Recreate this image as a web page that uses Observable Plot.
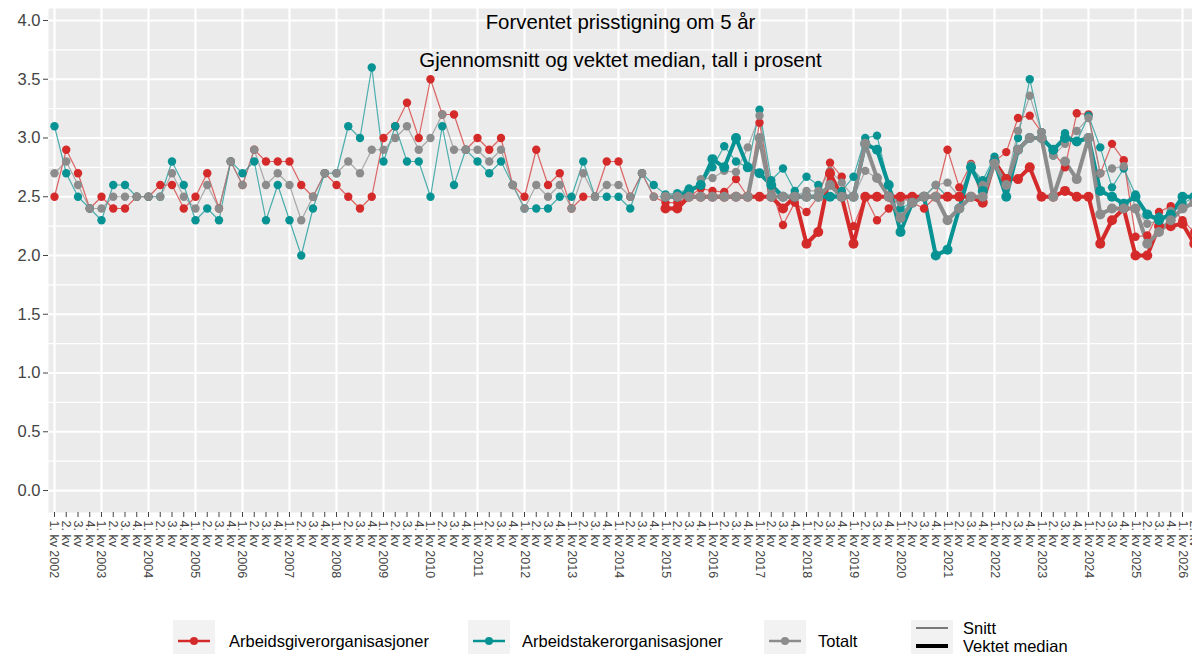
<!DOCTYPE html>
<html>
<head>
<meta charset="utf-8">
<script src="https://cdn.jsdelivr.net/npm/d3@7"></script>
<script src="https://cdn.jsdelivr.net/npm/@observablehq/plot@0.6"></script>
<style>
html, body { margin: 0; padding: 0; background: #fff; overflow: hidden; width: 1192px; height: 654px; }
#wrap { position: relative; width: 1192px; height: 654px; font-family: "Liberation Sans", Arial, sans-serif; }
#legend { position: absolute; left: 0; top: 0; width: 1192px; height: 654px; pointer-events: none; }
.key { position: absolute; top: 620px; width: 42px; height: 40px; background: #F2F2F2; }
.lab { position: absolute; font-size: 16.5px; line-height: 1; color: #000; white-space: nowrap; }
</style>
</head>
<body>
<div id="wrap"><div id="chart"></div><div id="legend"></div></div>
<script>
// ---- categories / tick labels ----
const yearLabels = ["2002","2003","2004","2005","2006","2007","2008","2009","2010","2011","2012","2013","2014",
  "2015","2016","2017","2018","2019","2020","2021","2022","2023","2024","2025","2026"];
const quarterLabels = ["1. kv", "2. kv", "3. kv", "4. kv"];
const categories = yearLabels.flatMap(y => quarterLabels.map((q, k) => k === 0 ? `${q} ${y}` : q)).slice(0, 98);
const yTicks = [0, 0.5, 1, 1.5, 2, 2.5, 3, 3.5, 4];
const yMinor = [0.25, 0.75, 1.25, 1.75, 2.25, 2.75, 3.25, 3.75];

const seriesNames = ["Arbeidsgiverorganisasjoner", "Arbeidstakerorganisasjoner", "Totalt"];
const seriesColors = ["#d52a2a", "#079393", "#8c8c8c"];

// ---- Snitt (average), 1. kv 2002 – 2. kv 2026 ----
const arbSnitt = [2.5,2.9,2.7,2.4,2.5,2.4,2.4,2.5,2.5,2.6, 2.6,2.4,2.5,2.7,2.4,2.8,2.6,2.9,2.8,2.8,
  2.8,2.6,2.5,2.7,2.6,2.5,2.4,2.5,3.0,3.1, 3.3,3.0,3.5,3.2,3.2,2.9,3.0,2.9,3.0,2.6,
  2.5,2.9,2.6,2.7,2.4,2.5,2.5,2.8,2.8,2.5, 2.7,2.5,
  2.45,2.45,2.5,2.57,2.55,2.54,2.65,2.5,3.13,2.57, 2.26,2.45,2.37,2.5,2.79,2.67,2.25,2.5,2.3,2.4,
  2.5,2.45,2.4,2.5,2.9,2.58,2.78,2.46,2.8,2.88, 3.17,3.19,3.05,2.88,2.75,3.21,3.2,2.7,2.95,2.81,
  2.16,2.17,2.37,2.42,2.3,2.2];
const takSnitt = [3.1,2.7,2.5,2.4,2.3,2.6,2.6,2.5,2.5,2.5, 2.8,2.6,2.3,2.4,2.3,2.8,2.7,2.8,2.3,2.6,
  2.3,2.0,2.4,2.7,2.7,3.1,3.0,3.6,2.8,3.1, 2.8,2.8,2.5,3.1,2.6,2.9,2.8,2.7,2.8,2.6,
  2.4,2.4,2.4,2.5,2.5,2.8,2.5,2.5,2.5,2.4, 2.7,2.6,
  2.52,2.53,2.57,2.6,2.75,2.93,2.8,2.75,3.24,2.64, 2.74,2.55,2.67,2.6,2.5,2.55,2.67,3.0,3.02,2.6,
  2.4,2.45,2.5,2.6,2.5,2.5,2.75,2.64,2.84,2.6, 3.0,3.5,3.05,2.85,3.04,2.97,3.19,2.92,2.58,2.74,
  2.52,2.35,2.33,2.35,2.44,2.5];
const totSnitt = [2.7,2.8,2.6,2.4,2.4,2.5,2.5,2.5,2.5,2.5, 2.7,2.5,2.4,2.6,2.4,2.8,2.6,2.9,2.6,2.7,
  2.6,2.3,2.5,2.7,2.7,2.8,2.7,2.9,2.9,3.0, 3.1,2.9,3.0,3.2,2.9,2.9,2.9,2.8,2.9,2.6,
  2.4,2.6,2.5,2.6,2.4,2.7,2.5,2.6,2.6,2.5, 2.7,2.5,
  2.5,2.5,2.5,2.65,2.66,2.72,2.71,2.92,3.19,2.55, 2.5,2.5,2.55,2.55,2.72,2.62,2.5,2.72,2.66,2.5,
  2.45,2.5,2.5,2.6,2.62,2.5,2.77,2.6,2.8,2.62, 3.06,3.36,3.05,2.85,2.95,3.06,3.17,2.7,2.74,2.76,
  2.4,2.27,2.3,2.38,2.5,2.5];

// ---- Vektet median, 1. kv 2015 – 2. kv 2026 ----
const medianStart = "1. kv 2015";
const arbMedian = [2.4,2.4,2.5,2.5,2.5,2.5,2.5,2.5,2.5,2.5, 2.4,2.5,2.1,2.2,2.7,2.5,2.1,2.5,2.5,2.5,
  2.5,2.5,2.5,2.5,2.5,2.5,2.5,2.45,2.8,2.65, 2.65,2.75,2.5,2.5,2.55,2.5,2.5,2.1,2.3,2.4,
  2.0,2.0,2.25,2.25,2.27,2.1];
const takMedian = [2.5,2.5,2.55,2.6,2.82,2.75,3.0,2.75,2.7,2.6, 2.5,2.5,2.5,2.5,2.5,2.5,2.5,2.95,2.9,2.6,
  2.2,2.45,2.5,2.0,2.05,2.4,2.75,2.55,2.8,2.5, 2.9,3.0,3.0,2.9,3.0,2.97,3.0,2.55,2.5,2.44,
  2.5,2.35,2.3,2.35,2.5,2.5];
const totMedian = [2.5,2.5,2.5,2.5,2.5,2.5,2.5,2.5,3.0,2.5, 2.5,2.5,2.5,2.5,2.6,2.5,2.5,2.95,2.66,2.5,
  2.32,2.45,2.5,2.5,2.3,2.4,2.5,2.5,2.78,2.6, 2.9,3.0,3.0,2.5,2.8,2.65,3.0,2.35,2.4,2.4,
  2.4,2.1,2.2,2.3,2.4,2.45];

// ---- build tidy rows ----
const rows = [];
function addSeries(series, kind, values, startIndex) {
  values.forEach((v, k) => rows.push({i: startIndex + k, v, series, kind}));
}
const m0 = categories.indexOf(medianStart);
addSeries(seriesNames[0], "snitt", arbSnitt, 0);
addSeries(seriesNames[1], "snitt", takSnitt, 0);
addSeries(seriesNames[2], "snitt", totSnitt, 0);
addSeries(seriesNames[0], "median", arbMedian, m0);
addSeries(seriesNames[1], "median", takMedian, m0);
addSeries(seriesNames[2], "median", totMedian, m0);
const snitt = rows.filter(d => d.kind === "snitt");
const median = rows.filter(d => d.kind === "median");
const yearStarts = categories.map((c, i) => i).filter(i => i % 4 === 0);

const chart = Plot.plot({
  width: 1192,
  height: 612,
  marginLeft: 48,
  marginRight: 0,
  marginTop: 8,
  marginBottom: 100,
  style: {fontFamily: '"Liberation Sans", Arial, sans-serif', background: "#fff", overflow: "hidden"},
  x: {domain: [-0.51, 96.85], axis: null},
  y: {domain: [-0.187, 4.102], axis: null},
  color: {domain: seriesNames, range: seriesColors},
  marks: [
    Plot.frame({fill: "#EBEBEB", stroke: null}),
    Plot.ruleY(yMinor, {stroke: "#fff", strokeWidth: 1.1}),
    Plot.ruleY(yTicks, {stroke: "#fff", strokeWidth: 2.2}),
    Plot.ruleX(yearStarts, {stroke: "#fff", strokeWidth: 2.2}),
    Plot.axisY({ticks: yTicks, tickFormat: d => d.toFixed(1), fontSize: 16.5, tickSize: 5, tickPadding: 3, color: "#444", label: null}),
    Plot.axisX({ticks: d3.range(categories.length), tickFormat: i => categories[i], tickRotate: 90,
      fontSize: 12.5, tickSize: 5, tickPadding: 3, color: "#444", label: null}),
    Plot.line(snitt, {x: "i", y: "v", z: "series", stroke: "series", strokeWidth: 1.2, strokeOpacity: 0.7, clip: true}),
    Plot.line(median, {x: "i", y: "v", z: "series", stroke: "series", strokeWidth: 4, clip: true}),
    Plot.dot(snitt, {x: "i", y: "v", fill: "series", r: 4.2, clip: true}),
    Plot.dot(median, {x: "i", y: "v", fill: "series", r: 5, clip: true}),
    Plot.text(["Forventet prisstigning om 5 år"], {text: d => d, frameAnchor: "top", dy: 6, fontSize: 20.4, fill: "#000"}),
    Plot.text(["Gjennomsnitt og vektet median, tall i prosent"], {text: d => d, frameAnchor: "top", dy: 44, fontSize: 20.4, fill: "#000"})
  ]
});
document.getElementById("chart").appendChild(chart);

// ---- legend (HTML below the SVG) ----
const legend = d3.select("#legend");
const keyLefts = [173, 468, 764];
const labLefts = [229, 522, 818];
seriesNames.forEach((name, k) => {
  const key = legend.append("div").attr("class", "key").style("left", keyLefts[k] + "px");
  const svg = key.append("svg").attr("width", 42).attr("height", 40);
  svg.append("line").attr("x1", 5).attr("x2", 37).attr("y1", 21).attr("y2", 21)
    .attr("stroke", seriesColors[k]).attr("stroke-width", 2.5);
  svg.append("circle").attr("cx", 21).attr("cy", 21).attr("r", 4).attr("fill", seriesColors[k]);
  legend.append("div").attr("class", "lab").style("left", labLefts[k] + "px").style("top", "633px").text(name);
});
const kindKey = legend.append("div").attr("class", "key").style("left", "911px");
const ksvg = kindKey.append("svg").attr("width", 42).attr("height", 40);
ksvg.append("line").attr("x1", 5).attr("x2", 37).attr("y1", 8).attr("y2", 8).attr("stroke", "#000").attr("stroke-width", 1);
ksvg.append("line").attr("x1", 5).attr("x2", 37).attr("y1", 26).attr("y2", 26).attr("stroke", "#000").attr("stroke-width", 4);
legend.append("div").attr("class", "lab").style("left", "963px").style("top", "620px").text("Snitt");
legend.append("div").attr("class", "lab").style("left", "963px").style("top", "638px").text("Vektet median");
</script>
</body>
</html>
